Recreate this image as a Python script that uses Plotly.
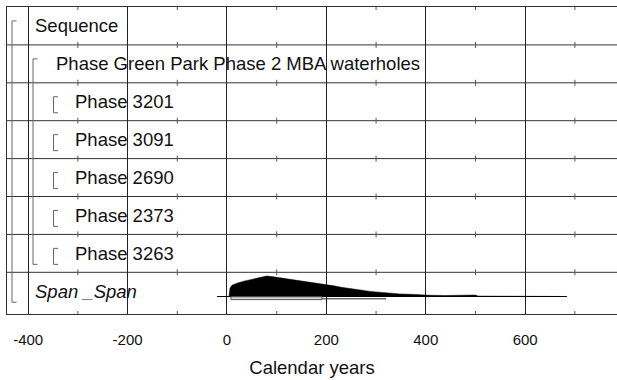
import plotly.graph_objects as go

# ---------------- data ----------------
row_labels = ["Sequence", "Phase Green Park Phase 2 MBA waterholes", "Phase 3201",
              "Phase 3091", "Phase 2690", "Phase 2373", "Phase 3263", "Span _Span"]
row_indent = [0, 1, 2, 2, 2, 2, 2, 0]

tick_vals = [-400, -200, 0, 200, 400, 600]
tick_text = ["-400", "-200", "0", "200", "400", "600"]
minor_vals = [-300, -100, 100, 300, 500, 700]

# Span posterior distribution (calendar years, relative probability)
span_years = [4, 6, 10, 20, 34, 44, 50, 60, 68, 74, 80, 90, 102, 110, 118, 134, 150,
              168, 185, 200, 215, 230, 248, 268, 288, 308, 328, 348, 368, 390, 410,
              440, 470, 490, 496, 500, 505, 520, 550, 600, 650, 684]
span_prob = [0.0, 0.40, 0.55, 0.65, 0.75, 0.80, 0.85, 0.90, 0.95, 0.97, 1.0, 0.97, 0.93,
             0.88, 0.85, 0.80, 0.75, 0.70, 0.65, 0.60, 0.52, 0.45, 0.40, 0.32, 0.25,
             0.20, 0.15, 0.125, 0.11, 0.08, 0.06, 0.05, 0.045, 0.04, 0.07, 0.07, 0.02,
             0.015, 0.012, 0.008, 0.005, 0.0]
span_extent = [-20, 684]
span_68 = [8, 191]
span_95 = [8, 320]

# ---------------- layout helpers ----------------
W, H = 617, 380
ML, MR, MT, MB = 7, 0, 7, 66
XR = [-442.6, 784.7]
YR = [8.1, 0]
px_per_unit = (H - MT - MB) / 8.1


def px2x(px):
    return XR[0] + (px - ML) / (W - ML - MR) * (XR[1] - XR[0])


def py2y(py):
    return (py - MT) / px_per_unit


fig = go.Figure()

# span distribution
base_y = py2y(296.5)
peak_h = 20.5 / px_per_unit
poly_x = list(span_years) + [span_years[-1], span_years[0]]
poly_y = [base_y - p * peak_h for p in span_prob] + [base_y, base_y]
fig.add_trace(go.Scatter(x=poly_x, y=poly_y, mode="lines", fill="toself",
                         fillcolor="black", line=dict(color="black", width=0.5),
                         hoverinfo="skip", showlegend=False))
# baseline extent
fig.add_trace(go.Scatter(x=span_extent, y=[base_y, base_y], mode="lines",
                         line=dict(color="black", width=1.2), hoverinfo="skip",
                         showlegend=False))
# 95.4% range line
y95 = py2y(298.8)
fig.add_trace(go.Scatter(x=span_95, y=[y95, y95], mode="lines",
                         line=dict(color="#222", width=1), hoverinfo="skip",
                         showlegend=False))

shapes = []
# 68.2% range box
shapes.append(dict(type="rect", xref="x", yref="y", x0=span_68[0], x1=span_68[1],
                   y0=py2y(296.8), y1=py2y(299.6), line=dict(color="#555", width=1),
                   fillcolor="#ddd", layer="above"))

# row separator lines
for k in range(1, 8):
    shapes.append(dict(type="line", xref="paper", yref="y", x0=0, x1=1, y0=k, y1=k,
                       line=dict(color="#333", width=1), layer="below"))
# minor ticks on every horizontal line
tick_h = 3.0 / px_per_unit
for k in list(range(0, 8)) + [8.1]:
    for mv in minor_vals:
        shapes.append(dict(type="line", xref="x", yref="y", x0=mv, x1=mv,
                           y0=k - tick_h, y1=k + tick_h,
                           line=dict(color="#555", width=1)))

# brackets
def bracket(xpx, top_row, bot_row, arm=4.5):
    x0 = px2x(xpx)
    x1 = px2x(xpx + arm)
    yt = top_row + 0.5 - 5 / px_per_unit
    yb = bot_row + 0.5 + 11 / px_per_unit
    col = dict(color="#666", width=1)
    return [
        dict(type="line", xref="x", yref="y", x0=x0, x1=x0, y0=yt, y1=yb, line=col),
        dict(type="line", xref="x", yref="y", x0=x0, x1=x1, y0=yt, y1=yt, line=col),
        dict(type="line", xref="x", yref="y", x0=x0, x1=x1, y0=yb, y1=yb, line=col),
    ]

shapes += bracket(12, 0, 7)
shapes += bracket(33, 1, 6)
for r in range(2, 7):
    shapes += bracket(53.5, r, r)

annotations = []
indent_px = [33, 54, 73]
for i, lab in enumerate(row_labels):
    xpx = indent_px[row_indent[i]]
    txt = lab if i < 7 else "<i>" + lab + "</i>"
    annotations.append(dict(x=px2x(xpx), y=i + 0.5, xref="x", yref="y", text=txt,
                            showarrow=False, xanchor="left", yanchor="middle",
                            font=dict(size=18.5, color="#111",
                                      family="Liberation Sans, Arial, sans-serif")))

fig.update_layout(
    width=W, height=H,
    margin=dict(l=ML, r=MR, t=MT, b=MB, pad=0),
    plot_bgcolor="white", paper_bgcolor="white",
    showlegend=False,
    shapes=shapes,
    annotations=annotations,
    font=dict(family="Liberation Sans, Arial, sans-serif", color="#111"),
)
fig.update_xaxes(range=XR, tickvals=tick_vals, ticktext=tick_text, ticks="",
                 showgrid=True, gridcolor="#222", gridwidth=1, zeroline=False,
                 showline=True, linecolor="#333", linewidth=1, mirror=True,
                 tickfont=dict(size=15, color="#111"), ticklabelstandoff=12,
                 title=dict(text="Calendar years", font=dict(size=18.5, color="#111"),
                            standoff=14))
fig.update_yaxes(range=YR, showgrid=False, zeroline=False, showticklabels=False,
                 ticks="", showline=True, linecolor="#333", linewidth=1, mirror=False)

fig.write_html("out.html", config={"displayModeBar": False},
               post_script="document.body.style.margin='0';document.body.style.overflow='hidden';")
